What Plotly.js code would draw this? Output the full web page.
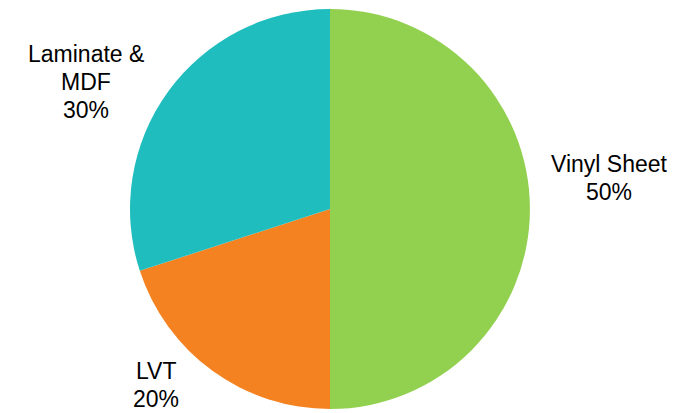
<!DOCTYPE html>
<html>
<head>
<meta charset="utf-8">
<script src="https://cdn.plot.ly/plotly-3.0.1.min.js"></script>
<style>html,body{margin:0;padding:0;background:#fff;}#chart{width:686px;height:413px;}</style>
</head>
<body>
<div id="chart"></div>
<script>
const labels = ["Vinyl Sheet", "LVT", "Laminate & MDF"];
const labelLines = [["Vinyl Sheet"], ["LVT"], ["Laminate &", "MDF"]];
const values = [50, 20, 30];
const colors = ["#92D050", "#F58220", "#20BDBE"];

const W = 686, H = 413;
const cx = 330, cy = 209, r = 200;
// label block centre positions (pixels)
const labelPos = [[609, 178], [156, 385], [86, 82]];
const lineGap = 27.6;

const total = values.reduce((a, b) => a + b, 0);
const annotations = [];
labels.forEach((l, i) => {
  const lines = labelLines[i].concat([Math.round(values[i] / total * 100) + "%"]);
  const n = lines.length;
  lines.forEach((t, j) => {
    const py = labelPos[i][1] + (j - (n - 1) / 2) * lineGap;
    annotations.push({
      xref: "paper", yref: "paper",
      x: labelPos[i][0] / W, y: 1 - py / H,
      xanchor: "center", yanchor: "middle",
      showarrow: false,
      text: t,
      font: {family: "Liberation Sans, Arial, sans-serif", size: 23, color: "#000"}
    });
  });
});

const trace = {
  type: "pie",
  labels: labels,
  values: values,
  marker: {colors: colors, line: {width: 0}},
  sort: false,
  direction: "clockwise",
  rotation: 0,
  textinfo: "none",
  hoverinfo: "label+percent",
  domain: {x: [(cx - r) / W, (cx + r) / W], y: [1 - (cy + r) / H, 1 - (cy - r) / H]}
};

Plotly.newPlot("chart", [trace], {
  width: W, height: H,
  margin: {l: 0, r: 0, t: 0, b: 0},
  showlegend: false,
  paper_bgcolor: "#fff",
  annotations: annotations
}, {displayModeBar: false, staticPlot: true});
</script>
</body>
</html>
